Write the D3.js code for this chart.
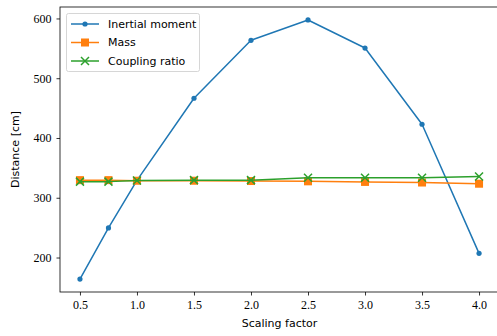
<!DOCTYPE html>
<html>
<head>
<meta charset="utf-8">
<script src="https://cdn.jsdelivr.net/npm/d3@7"></script>
<style>
  html, body { margin: 0; padding: 0; background: #fff; }
  svg { display: block; }
  .tick text { font-family: "Liberation Serif", serif; font-size: 12px; fill: #000; }
  .lbl { font-family: "DejaVu Sans", sans-serif; font-size: 11px; fill: #000; }
</style>
</head>
<body>
<svg id="chart" width="497" height="336"></svg>
<script>
const scaling = [0.5, 0.75, 1.0, 1.5, 2.0, 2.5, 3.0, 3.5, 4.0];
const inertial = [164, 249.5, 329, 466.5, 563.5, 597.5, 550.5, 423, 207];
const mass = [329.5, 329.5, 328.5, 328.5, 328, 327.5, 326.5, 325.5, 323.5];
const coupling = [327, 327, 329, 329.5, 329.5, 333.5, 333.5, 333.5, 335.5];
const xTicks = [0.5, 1.0, 1.5, 2.0, 2.5, 3.0, 3.5, 4.0];
const yTicks = [200, 300, 400, 500, 600];

const series = [
  {name: 'Inertial moment', values: inertial, color: '#1f77b4', marker: 'circle'},
  {name: 'Mass', values: mass, color: '#ff7f0e', marker: 'square'},
  {name: 'Coupling ratio', values: coupling, color: '#2ca02c', marker: 'x'}
];

const margin = {top: 7, right: -2, bottom: 44, left: 60};
const svg = d3.select('#chart');
const width = 497 - margin.left - margin.right;
const height = 336 - margin.top - margin.bottom;

const chart = svg.append('g')
  .attr('transform', 'translate(' + margin.left + ',' + margin.top + ')');

// matplotlib style 5% padding
const allY = inertial.concat(mass, coupling);
const yMin = d3.min(allY), yMax = d3.max(allY);
const xPad = (4.0 - 0.5) * 0.05, yPad = (yMax - yMin) * 0.05;

const x = d3.scaleLinear().domain([0.5 - xPad, 4.0 + xPad]).range([0, width]);
const y = d3.scaleLinear().domain([yMin - yPad, yMax + yPad]).range([height, 0]);

const xAxis = d3.axisBottom(x).tickValues(xTicks).tickFormat(d3.format('.1f')).tickSize(3.5).tickPadding(5);
const yAxis = d3.axisLeft(y).tickValues(yTicks).tickFormat(d3.format('d')).tickSize(3.5).tickPadding(5);

chart.append('g')
  .attr('transform', 'translate(0,' + height + ')')
  .call(xAxis)
  .call(g => g.select('.domain').remove());
chart.append('g')
  .call(yAxis)
  .call(g => g.select('.domain').remove());

chart.selectAll('.tick line').attr('stroke', '#000').attr('stroke-width', 0.8);

// spines
chart.append('rect')
  .attr('x', 0).attr('y', 0).attr('width', width).attr('height', height)
  .attr('fill', 'none').attr('stroke', '#000').attr('stroke-width', 0.8);

function drawMarker(g, type, color, cx, cy) {
  if (type === 'circle') {
    g.append('circle').attr('cx', cx).attr('cy', cy).attr('r', 2.6).attr('fill', color);
  } else if (type === 'square') {
    g.append('rect').attr('x', cx - 4).attr('y', cy - 4).attr('width', 8).attr('height', 8).attr('fill', color);
  } else {
    g.append('path')
      .attr('d', 'M' + (cx - 4) + ',' + (cy - 4) + 'L' + (cx + 4) + ',' + (cy + 4) +
        'M' + (cx - 4) + ',' + (cy + 4) + 'L' + (cx + 4) + ',' + (cy - 4))
      .attr('stroke', color).attr('stroke-width', 1.5).attr('fill', 'none');
  }
}

const line = d3.line().x((d, i) => x(scaling[i])).y(d => y(d));

series.forEach(s => {
  const g = chart.append('g');
  g.append('path')
    .datum(s.values)
    .attr('d', line)
    .attr('fill', 'none')
    .attr('stroke', s.color)
    .attr('stroke-width', 1.5)
    .attr('stroke-linejoin', 'round');
  s.values.forEach((v, i) => drawMarker(g, s.marker, s.color, x(scaling[i]), y(v)));
});

// legend
const legend = chart.append('g').attr('transform', 'translate(6.5,6.5)');
legend.append('rect')
  .attr('width', 133).attr('height', 58).attr('rx', 2)
  .attr('fill', '#fff').attr('fill-opacity', 0.8)
  .attr('stroke', '#ccc').attr('stroke-width', 0.8);
series.forEach((s, i) => {
  const ry = 10.5 + 18.5 * i;
  legend.append('line')
    .attr('x1', 4.5).attr('x2', 32.5).attr('y1', ry).attr('y2', ry)
    .attr('stroke', s.color).attr('stroke-width', 1.5);
  drawMarker(legend, s.marker, s.color, 18.5, ry);
  legend.append('text')
    .attr('class', 'lbl')
    .attr('x', 41.5).attr('y', ry)
    .attr('dy', '0.35em')
    .text(s.name);
});

// axis labels
svg.append('text')
  .attr('class', 'lbl')
  .attr('x', margin.left + width / 2)
  .attr('y', 327)
  .attr('text-anchor', 'middle')
  .text('Scaling factor');
svg.append('text')
  .attr('class', 'lbl')
  .attr('transform', 'translate(19,' + (margin.top + height / 2) + ') rotate(-90)')
  .attr('text-anchor', 'middle')
  .text('Distance [cm]');
</script>
</body>
</html>
